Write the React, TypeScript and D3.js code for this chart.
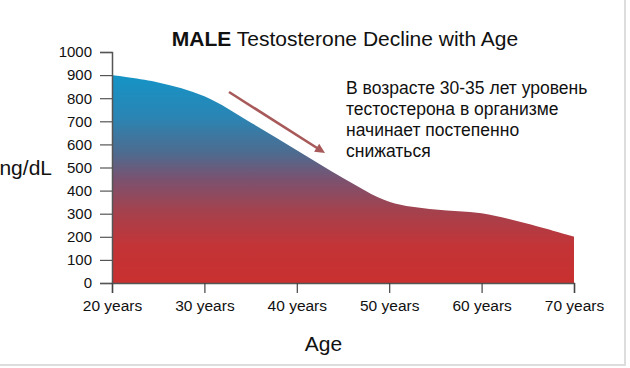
import React, { useEffect, useRef } from 'react';
import * as d3 from 'd3';

const ages = [20, 25, 30, 35, 40, 45, 50, 55, 60, 65, 70];
const levels = [900, 868, 808, 695, 575, 455, 352, 318, 302, 256, 200];
const yTicks = [0, 100, 200, 300, 400, 500, 600, 700, 800, 900, 1000];
const xTicks = [20, 30, 40, 50, 60, 70];
const noteLines = [
  'В возрасте 30-35 лет уровень',
  'тестостерона в организме',
  'начинает постепенно',
  'снижаться',
];

const App = () => {
  const ref = useRef<SVGSVGElement | null>(null);

  useEffect(() => {
    const W = 630;
    const H = 368;
    const font = 'Liberation Sans, Arial, sans-serif';
    const svg = d3.select(ref.current);
    svg.selectAll('*').remove();

    const x = d3.scaleLinear().domain([20, 70]).range([112, 574]);
    const y = d3.scaleLinear().domain([0, 1000]).range([283, 52]);

    svg.append('rect').attr('width', W).attr('height', H).attr('fill', '#fff');

    const defs = svg.append('defs');
    const grad = defs
      .append('linearGradient')
      .attr('id', 'tGrad')
      .attr('x1', 0)
      .attr('y1', 0)
      .attr('x2', 0)
      .attr('y2', 1);
    const stops: [number, string][] = [
      [0, '#1594c6'],
      [0.2, '#2a85b4'],
      [0.38, '#4f6a8e'],
      [0.5, '#7a5270'],
      [0.65, '#a3424e'],
      [0.82, '#c33437'],
      [1, '#c9302f'],
    ];
    stops.forEach(([o, c]) => grad.append('stop').attr('offset', o).attr('stop-color', c));

    const data = ages.map((a, i) => ({ age: a, v: levels[i] }));
    const area = d3
      .area<{ age: number; v: number }>()
      .x(d => x(d.age))
      .y0(y(0))
      .y1(d => y(d.v))
      .curve(d3.curveCatmullRom.alpha(0.5));

    svg.append('path').datum(data).attr('d', area).attr('fill', 'url(#tGrad)');

    // axes
    const yAxis = svg
      .append('g')
      .attr('transform', `translate(${x(20)},0)`)
      .call(
        d3
          .axisLeft(y)
          .tickValues(yTicks)
          .tickSize(12)
          .tickPadding(8)
          .tickFormat(d3.format('d'))
      );
    yAxis.select('.domain').attr('stroke', '#555').attr('stroke-width', 1.5);
    yAxis.selectAll('.tick line').attr('stroke', '#555').attr('stroke-width', 1.2);
    yAxis
      .selectAll('.tick text')
      .attr('font-family', font)
      .attr('font-size', 15)
      .attr('fill', '#111');

    const xAxis = svg
      .append('g')
      .attr('transform', `translate(0,${y(0)})`)
      .call(
        d3
          .axisBottom(x)
          .tickValues(xTicks)
          .tickSize(10)
          .tickPadding(7)
          .tickFormat(d => `${d} years`)
      );
    xAxis.select('.domain').attr('stroke', '#555').attr('stroke-width', 1.5);
    xAxis.selectAll('.tick line').attr('stroke', '#444').attr('stroke-width', 1.2);
    xAxis
      .selectAll('.tick text')
      .attr('font-family', font)
      .attr('font-size', 15.5)
      .attr('fill', '#111');

    // title
    const title = svg
      .append('text')
      .attr('x', 345)
      .attr('y', 46)
      .attr('text-anchor', 'middle')
      .attr('font-family', font)
      .attr('font-size', 21)
      .attr('fill', '#111');
    title.append('tspan').attr('font-weight', 'bold').text('MALE');
    title.append('tspan').text(' Testosterone Decline with Age');

    svg
      .append('text')
      .attr('x', 52)
      .attr('y', 175)
      .attr('text-anchor', 'end')
      .attr('font-family', font)
      .attr('font-size', 21)
      .attr('fill', '#111')
      .text('ng/dL');

    svg
      .append('text')
      .attr('x', 323.5)
      .attr('y', 351)
      .attr('text-anchor', 'middle')
      .attr('font-family', font)
      .attr('font-size', 21)
      .attr('fill', '#111')
      .text('Age');

    // annotation
    const note = svg
      .append('text')
      .attr('font-family', font)
      .attr('font-size', 17.5)
      .attr('fill', '#111');
    noteLines.forEach((t, i) => {
      note
        .append('tspan')
        .attr('x', 346)
        .attr('y', 94 + i * 21)
        .text(t);
    });

    const ax1 = 229, ay1 = 92, ax2 = 325, ay2 = 153;
    svg
      .append('line')
      .attr('x1', ax1)
      .attr('y1', ay1)
      .attr('x2', ax2 - 4)
      .attr('y2', ay2 - 2.5)
      .attr('stroke', '#a85a5a')
      .attr('stroke-width', 2.6);
    const ang = Math.atan2(ay2 - ay1, ax2 - ax1);
    const hl = 11, hw = 0.45;
    svg
      .append('path')
      .attr(
        'd',
        `M${ax2},${ay2}L${ax2 - hl * Math.cos(ang - hw)},${ay2 - hl * Math.sin(ang - hw)}` +
          `L${ax2 - hl * Math.cos(ang + hw)},${ay2 - hl * Math.sin(ang + hw)}Z`
      )
      .attr('fill', '#a85a5a');

    // faint frame
    svg
      .append('path')
      .attr('d', `M${W - 5},0V${H - 3}H0`)
      .attr('fill', 'none')
      .attr('stroke', '#ddd')
      .attr('stroke-width', 2);

    return () => {
      svg.selectAll('*').remove();
    };
  }, []);

  return (
    <svg
      ref={ref}
      width={630}
      height={368}
      style={{ position: 'absolute', left: 0, top: 0, display: 'block' }}
    />
  );
};

export default App;
